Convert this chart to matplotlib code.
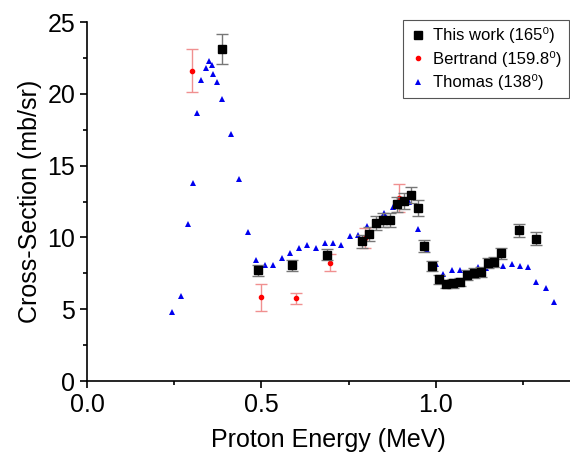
import matplotlib
matplotlib.use('Agg')
import matplotlib.pyplot as plt
from matplotlib.lines import Line2D
from matplotlib.ticker import MultipleLocator, FormatStrFormatter

plt.rcParams['font.family'] = ['Liberation Sans', 'DejaVu Sans']

# This work (165 deg)
work_e = [0.388, 0.489, 0.588, 0.689, 0.789, 0.808, 0.828, 0.848, 0.868, 0.888,
          0.908, 0.928, 0.948, 0.967, 0.988, 1.008, 1.028, 1.048, 1.068, 1.088,
          1.108, 1.128, 1.148, 1.167, 1.187, 1.237, 1.287]
work_xs = [23.1, 7.7, 8.05, 8.8, 9.73, 10.24, 11.0, 11.2, 11.2, 12.3,
           12.55, 12.95, 12.05, 9.4, 8.0, 7.08, 6.75, 6.8, 6.9, 7.38,
           7.52, 7.62, 8.22, 8.29, 8.89, 10.5, 9.9]
work_err = [1.05, 0.35, 0.36, 0.40, 0.44, 0.46, 0.50, 0.50, 0.50, 0.55,
            0.56, 0.58, 0.54, 0.42, 0.36, 0.32, 0.30, 0.31, 0.31, 0.33,
            0.34, 0.34, 0.37, 0.37, 0.40, 0.47, 0.45]

# Bertrand (159.8 deg)
bert_e = [0.300, 0.499, 0.598, 0.696, 0.796, 0.894]
bert_xs = [21.6, 5.83, 5.76, 8.24, 9.95, 12.75]
bert_err = [1.5, 0.93, 0.4, 0.6, 0.7, 0.95]

# Thomas (138 deg)
thom_e = [0.245, 0.268, 0.290, 0.303, 0.314, 0.326, 0.341, 0.350, 0.358, 0.362,
          0.372, 0.388, 0.412, 0.436, 0.460, 0.485, 0.510, 0.534, 0.559, 0.583,
          0.607, 0.631, 0.656, 0.681, 0.705, 0.728, 0.753, 0.777, 0.801, 0.850,
          0.876, 0.923, 0.948, 0.973, 0.999, 1.021, 1.046, 1.069, 1.119, 1.144,
          1.191, 1.217, 1.240, 1.264, 1.288, 1.315, 1.337]
thom_xs = [4.78, 5.92, 10.95, 13.8, 18.7, 21.0, 21.8, 22.3, 22.0, 21.4,
           20.8, 19.65, 17.2, 14.05, 10.4, 8.46, 8.1, 8.1, 8.6, 8.95,
           9.3, 9.5, 9.26, 9.63, 9.6, 9.47, 10.1, 10.2, 10.8, 11.7,
           12.15, 12.5, 10.6, 9.1, 8.13, 7.47, 7.73, 7.75, 7.96, 7.88,
           8.03, 8.18, 8.03, 7.94, 6.9, 6.47, 5.48]

labels = ['This work (165\u2070)', 'Bertrand (159.8\u2070)', 'Thomas (138\u2070)']

fig = plt.figure(figsize=(5.7, 4.71), dpi=100)
ax = fig.add_axes([0.1526, 0.191, 0.8474, 0.762])

ax.plot(thom_e, thom_xs, '^', color='#0000ee', markersize=4.5, markeredgewidth=0, zorder=2)
ax.errorbar(bert_e, bert_xs, yerr=bert_err, fmt='o', color='red', markersize=3,
            ecolor='#f09090', elinewidth=1, capsize=4, capthick=1, zorder=3)
ax.errorbar(work_e, work_xs, yerr=work_err, fmt='s', color='black', markersize=6,
            ecolor='#777777', elinewidth=1, capsize=4, capthick=1, zorder=4)

ax.set_xlim(0, 1.384)
ax.set_ylim(0, 25)
ax.xaxis.set_major_locator(MultipleLocator(0.5))
ax.xaxis.set_minor_locator(MultipleLocator(0.25))
ax.yaxis.set_major_locator(MultipleLocator(5))
ax.yaxis.set_minor_locator(MultipleLocator(2.5))
ax.xaxis.set_major_formatter(FormatStrFormatter('%.1f'))

for s in ['top', 'right']:
    ax.spines[s].set_visible(False)
for s in ['left', 'bottom']:
    ax.spines[s].set_linewidth(1.2)
ax.tick_params(which='major', direction='out', length=5, width=1.2, labelsize=18)
ax.tick_params(which='minor', direction='out', length=3, width=1.2)

ax.set_xlabel('Proton Energy (MeV)', fontsize=18, labelpad=8)
ax.set_ylabel('Cross-Section (mb/sr)', fontsize=18, labelpad=4)

# legend shows markers only
handles = [Line2D([], [], ls='', marker='s', color='black', markersize=6),
           Line2D([], [], ls='', marker='o', color='red', markersize=3),
           Line2D([], [], ls='', marker='^', color='#0000ee', markersize=4.5, markeredgewidth=0)]
leg = ax.legend(handles, labels, loc='upper right', bbox_to_anchor=(0.997, 1.006),
                borderaxespad=0, fontsize=12, fancybox=False, edgecolor='#555555',
                framealpha=1, handlelength=0.8, handletextpad=0.5, borderpad=0.45,
                labelspacing=0.45)
leg.get_frame().set_linewidth(0.8)

fig.savefig('out.png', dpi=100)
